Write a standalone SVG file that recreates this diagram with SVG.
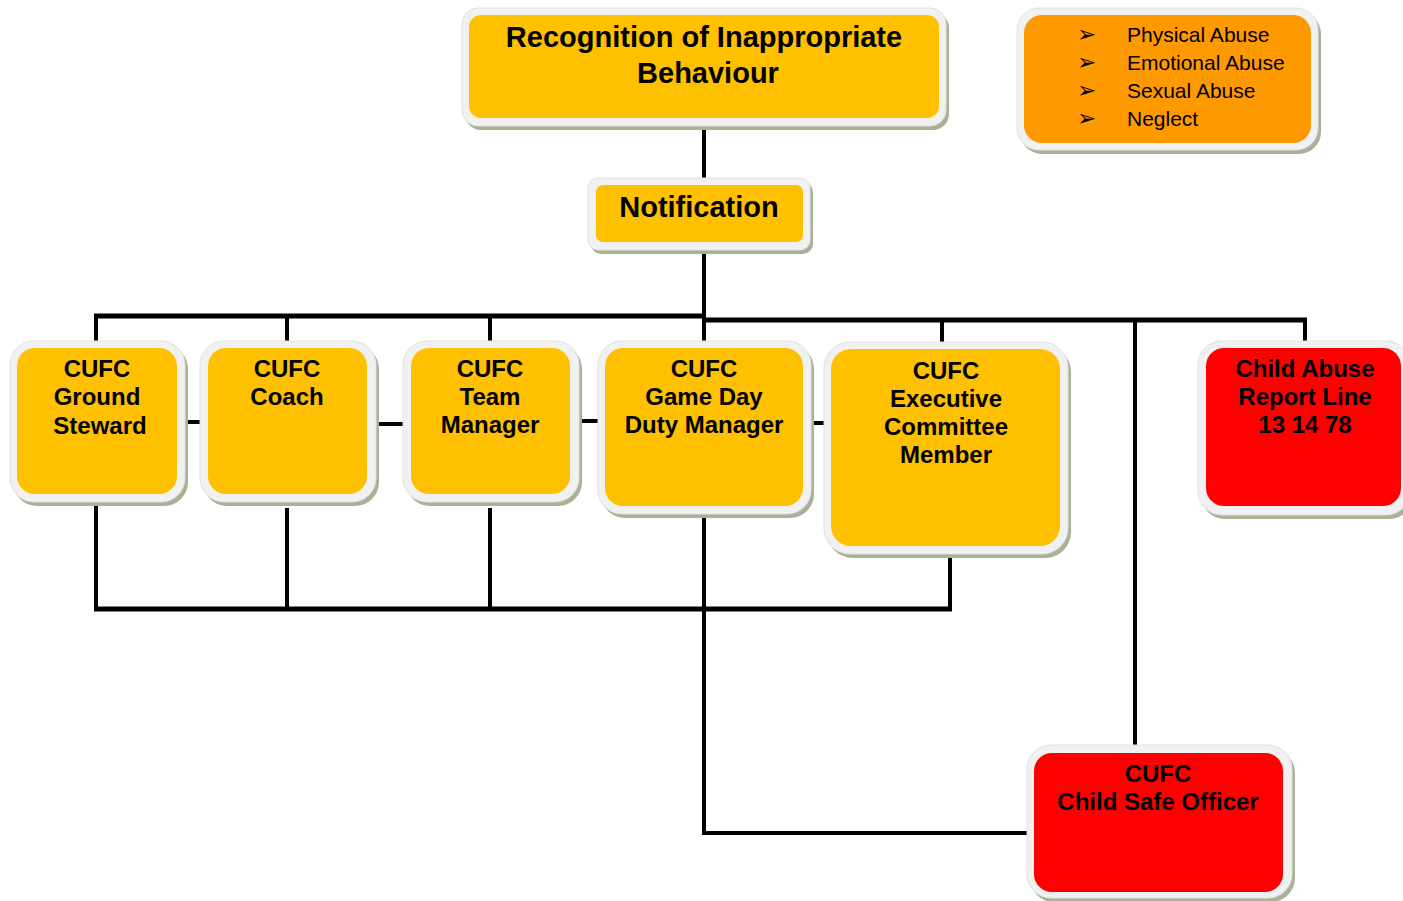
<svg xmlns="http://www.w3.org/2000/svg" width="1403" height="901" viewBox="0 0 1403 901">
<style>
.sh{fill:#A9B197}
.fr{fill:#F1F1F1;stroke:#E2E2E2;stroke-width:1}
.y{fill:#FFC000}
.o{fill:#FF9900}
.r{fill:#FF0000}
.t{font-family:"Liberation Sans",Arial,sans-serif;font-weight:bold;font-size:24px;fill:#000;text-anchor:middle}
.big{font-size:29px}
.b{font-family:"Liberation Sans",Arial,sans-serif;font-size:21px;fill:#000}
.ar{font-family:"DejaVu Sans",sans-serif;font-size:23px;fill:#000}
.c{stroke:#000;stroke-width:4;fill:none}
.bus{stroke:#000;stroke-width:5;fill:none}
</style>
<rect width="1403" height="901" fill="#fff"/>
<g id="connectors">
<line class="c" x1="704" y1="124" x2="704" y2="180"/>
<line class="c" x1="704" y1="248" x2="704" y2="322"/>
<line class="bus" x1="94" y1="316" x2="706" y2="316"/>
<line class="bus" x1="702" y1="320" x2="1307" y2="320"/>
<line class="c" x1="96" y1="314" x2="96" y2="343"/>
<line class="c" x1="287" y1="316" x2="287" y2="343"/>
<line class="c" x1="490" y1="316" x2="490" y2="343"/>
<line class="c" x1="704" y1="316" x2="704" y2="343"/>
<line class="c" x1="942" y1="320" x2="942" y2="344"/>
<line class="c" x1="1135" y1="320" x2="1135" y2="748"/>
<line class="c" x1="1305" y1="320" x2="1305" y2="343"/>
<line class="c" x1="184" y1="422" x2="204" y2="422"/>
<line class="c" x1="376" y1="424" x2="408" y2="424"/>
<line class="c" x1="578" y1="421" x2="601" y2="421"/>
<line class="c" x1="810" y1="423" x2="828" y2="423"/>
<line class="c" x1="96" y1="503" x2="96" y2="611"/>
<line class="c" x1="287" y1="508" x2="287" y2="611"/>
<line class="c" x1="490" y1="508" x2="490" y2="611"/>
<line class="c" x1="950" y1="557" x2="950" y2="611"/>
<line class="bus" x1="94" y1="609" x2="952" y2="609"/>
<polyline class="c" points="704,516 704,833 1030,833"/>
</g>
<g id="recognition">
<rect class="sh" x="465" y="12" width="484" height="118" rx="16"/>
<rect class="fr" x="462" y="8" width="484" height="118" rx="16"/>
<rect class="y" x="469" y="15" width="470" height="103" rx="12"/>
<text class="t big" x="704" y="47">Recognition of Inappropriate</text>
<text class="t big" x="708" y="83">Behaviour</text>
</g>
<g id="abuse-types">
<rect class="sh" x="1020" y="12" width="301" height="142" rx="22"/>
<rect class="fr" x="1017" y="8" width="301" height="142" rx="22"/>
<rect class="o" x="1024" y="15" width="287" height="128" rx="18"/>
<text class="ar" x="1077" y="42">➢</text>
<text class="ar" x="1077" y="70">➢</text>
<text class="ar" x="1077" y="98">➢</text>
<text class="ar" x="1077" y="126">➢</text>
<text class="b" x="1127" y="42">Physical Abuse</text>
<text class="b" x="1127" y="70">Emotional Abuse</text>
<text class="b" x="1127" y="98">Sexual Abuse</text>
<text class="b" x="1127" y="126">Neglect</text>
</g>
<g id="notification">
<rect class="sh" x="591" y="182" width="222" height="72" rx="10"/>
<rect class="fr" x="588" y="178" width="222" height="72" rx="10"/>
<rect class="y" x="596" y="185" width="207" height="57" rx="7"/>
<text class="t big" x="699" y="217">Notification</text>
</g>
<g id="ground-steward">
<rect class="sh" x="13" y="345" width="175" height="161" rx="24"/>
<rect class="fr" x="10" y="341" width="175" height="161" rx="24"/>
<rect class="y" x="17" y="348" width="160" height="146" rx="18"/>
<text class="t" x="97" y="377">CUFC</text>
<text class="t" x="97" y="405">Ground</text>
<text class="t" x="100" y="434">Steward</text>
</g>
<g id="coach">
<rect class="sh" x="203" y="345" width="176" height="161" rx="24"/>
<rect class="fr" x="200" y="341" width="176" height="161" rx="24"/>
<rect class="y" x="208" y="348" width="159" height="146" rx="18"/>
<text class="t" x="287" y="377">CUFC</text>
<text class="t" x="287" y="405">Coach</text>
</g>
<g id="team-manager">
<rect class="sh" x="406" y="345" width="176" height="161" rx="24"/>
<rect class="fr" x="403" y="341" width="176" height="161" rx="24"/>
<rect class="y" x="411" y="348" width="159" height="146" rx="18"/>
<text class="t" x="490" y="377">CUFC</text>
<text class="t" x="490" y="405">Team</text>
<text class="t" x="490" y="433">Manager</text>
</g>
<g id="game-day">
<rect class="sh" x="601" y="345" width="213" height="173" rx="24"/>
<rect class="fr" x="598" y="341" width="213" height="173" rx="24"/>
<rect class="y" x="605" y="348" width="198" height="158" rx="18"/>
<text class="t" x="704" y="377">CUFC</text>
<text class="t" x="704" y="405">Game Day</text>
<text class="t" x="704" y="433">Duty Manager</text>
</g>
<g id="executive">
<rect class="sh" x="827" y="346" width="244" height="212" rx="26"/>
<rect class="fr" x="824" y="342" width="244" height="212" rx="26"/>
<rect class="y" x="831" y="349" width="229" height="197" rx="20"/>
<text class="t" x="946" y="379">CUFC</text>
<text class="t" x="946" y="407">Executive</text>
<text class="t" x="946" y="435">Committee</text>
<text class="t" x="946" y="463">Member</text>
</g>
<g id="report-line">
<rect class="sh" x="1201" y="345" width="212" height="174" rx="24"/>
<rect class="fr" x="1198" y="341" width="212" height="174" rx="24"/>
<rect class="r" x="1206" y="348" width="195" height="158" rx="18"/>
<text class="t" x="1305" y="377">Child Abuse</text>
<text class="t" x="1305" y="405">Report Line</text>
<text class="t" x="1305" y="433">13 14 78</text>
</g>
<g id="child-safe-officer">
<rect class="sh" x="1030" y="749" width="265" height="153" rx="24"/>
<rect class="fr" x="1027" y="745" width="265" height="153" rx="24"/>
<rect class="r" x="1034" y="753" width="249" height="139" rx="18"/>
<text class="t" x="1158" y="782">CUFC</text>
<text class="t" x="1158" y="810">Child Safe Officer</text>
</g>
</svg>
